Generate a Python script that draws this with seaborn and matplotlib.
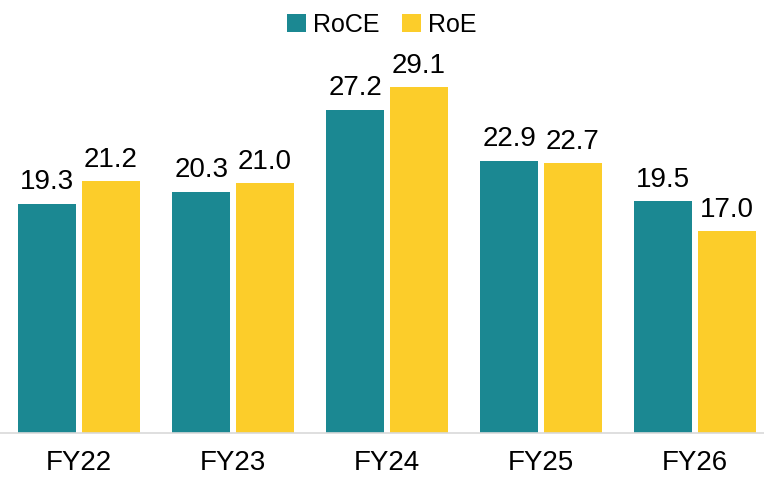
import pandas as pd
import seaborn as sns
import matplotlib.pyplot as plt

# data
years = ["FY22", "FY23", "FY24", "FY25", "FY26"]
roce = [19.3, 20.3, 27.2, 22.9, 19.5]
roe = [21.2, 21.0, 29.1, 22.7, 17.0]

df = pd.DataFrame({
    "year": years * 2,
    "metric": ["RoCE"] * len(years) + ["RoE"] * len(years),
    "value": roce + roe,
})

sns.set_style("white")
plt.rcParams["font.family"] = ["Liberation Sans", "DejaVu Sans"]
plt.rcParams["text.color"] = "black"
plt.rcParams["xtick.color"] = "black"

fig = plt.figure(figsize=(7.64, 4.86), dpi=100)
ax = fig.add_axes([0.0, 53 / 486, 1.0, 403 / 486])

sns.barplot(data=df, x="year", y="value", hue="metric",
            palette={"RoCE": "#1B8892", "RoE": "#FCCD2A"}, saturation=1,
            width=0.82, gap=0.08, ax=ax, legend=True, linewidth=0)

for c in ax.containers:
    ax.bar_label(c, fmt="%.1f", padding=6, fontsize=20, color="black")

ax.set_xlim(-0.513, 4.448)
ax.set_ylim(0, 33.9)
ax.set_xlabel("")
ax.set_ylabel("")
ax.set_yticks([])
for s in ["top", "right", "left"]:
    ax.spines[s].set_visible(False)
ax.spines["bottom"].set_color("#d9d9d9")
ax.spines["bottom"].set_linewidth(1.2)
ax.tick_params(axis="x", length=0, labelsize=20, pad=12, labelcolor="black")

handles, labels = ax.get_legend_handles_labels()
ax.get_legend().remove()
fig.legend(handles, labels, loc="upper center", bbox_to_anchor=(0.5, 1.02),
           ncol=2, frameon=False, fontsize=18, handlelength=0.75,
           handleheight=0.75, handletextpad=0.3, columnspacing=0.9)

fig.savefig("out.png", dpi=100)
